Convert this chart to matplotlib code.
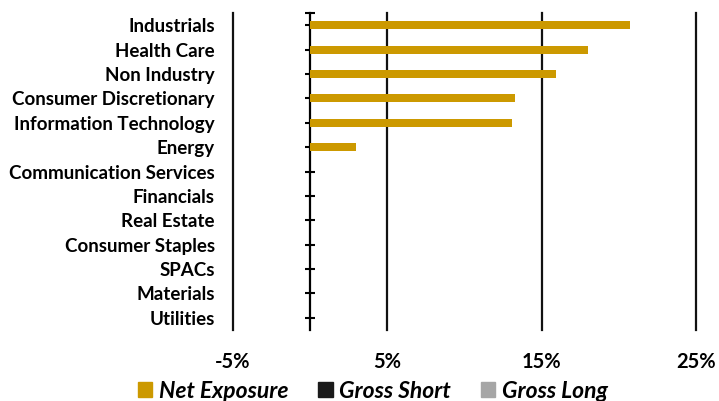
import numpy as np
import matplotlib.pyplot as plt
from matplotlib.patches import Patch

# sectors and exposures (% of NAV)
sectors = ['Industrials', 'Health Care', 'Non Industry', 'Consumer Discretionary',
           'Information Technology', 'Energy', 'Communication Services', 'Financials',
           'Real Estate', 'Consumer Staples', 'SPACs', 'Materials', 'Utilities']
net_exposure = [20.7, 18.0, 15.9, 13.3, 13.1, 3.0, 0, 0, 0, 0, 0, 0, 0]
xticks = [-5, 5, 15, 25]
xlabels = ['-5%', '5%', '15%', '25%']

gold = '#CC9900'
plt.rcParams['font.family'] = ['Lato', 'DejaVu Sans']

fig = plt.figure(figsize=(7.19, 4.01), dpi=100)
ax = fig.add_axes([233/719, 1-330/401, (696-233)/719, (330-13)/401])

y = np.arange(len(sectors))
ax.barh(y, net_exposure, height=0.33, color=gold, zorder=3)
ax.set_xlim(-5, 25)
ax.set_ylim(len(sectors)-0.5, -0.5)

ax.set_yticks(y)
ax.set_yticklabels(sectors, fontsize=13.5, fontweight='bold')
ax.tick_params(axis='y', length=0, pad=13)
ax.set_xticks(xticks)
ax.set_xticklabels(xlabels, fontsize=14.5, fontweight='bold')
ax.tick_params(axis='x', length=0, pad=16)
for s in ax.spines.values():
    s.set_visible(False)
ax.grid(axis='x', color='#111111', lw=1.6, zorder=1)
for gl in ax.get_xgridlines():
    gl.set_clip_on(False)

# zero axis with category tick marks
sec = ax.secondary_yaxis(5/30)
sec.set_yticks(y)
sec.set_yticklabels([])
sec.set_yticks([-0.5], minor=True)
sec.tick_params(which='both', direction='inout', length=7, width=1.5, color='black')
sec.spines['left'].set_linewidth(1.6)

handles = [Patch(color=gold, label='Net Exposure'),
           Patch(color='#1a1a1a', label='Gross Short'),
           Patch(color='#a6a6a6', label='Gross Long')]
fig.legend(handles=handles, loc='center', bbox_to_anchor=(373/719, 1-391/401), ncol=3,
           frameon=False, handlelength=0.62, handleheight=0.62, handletextpad=0.3,
           columnspacing=1.3, borderpad=0,
           prop={'size': 16.5, 'weight': 'bold', 'style': 'italic'})

fig.savefig('out.png', dpi=100)
